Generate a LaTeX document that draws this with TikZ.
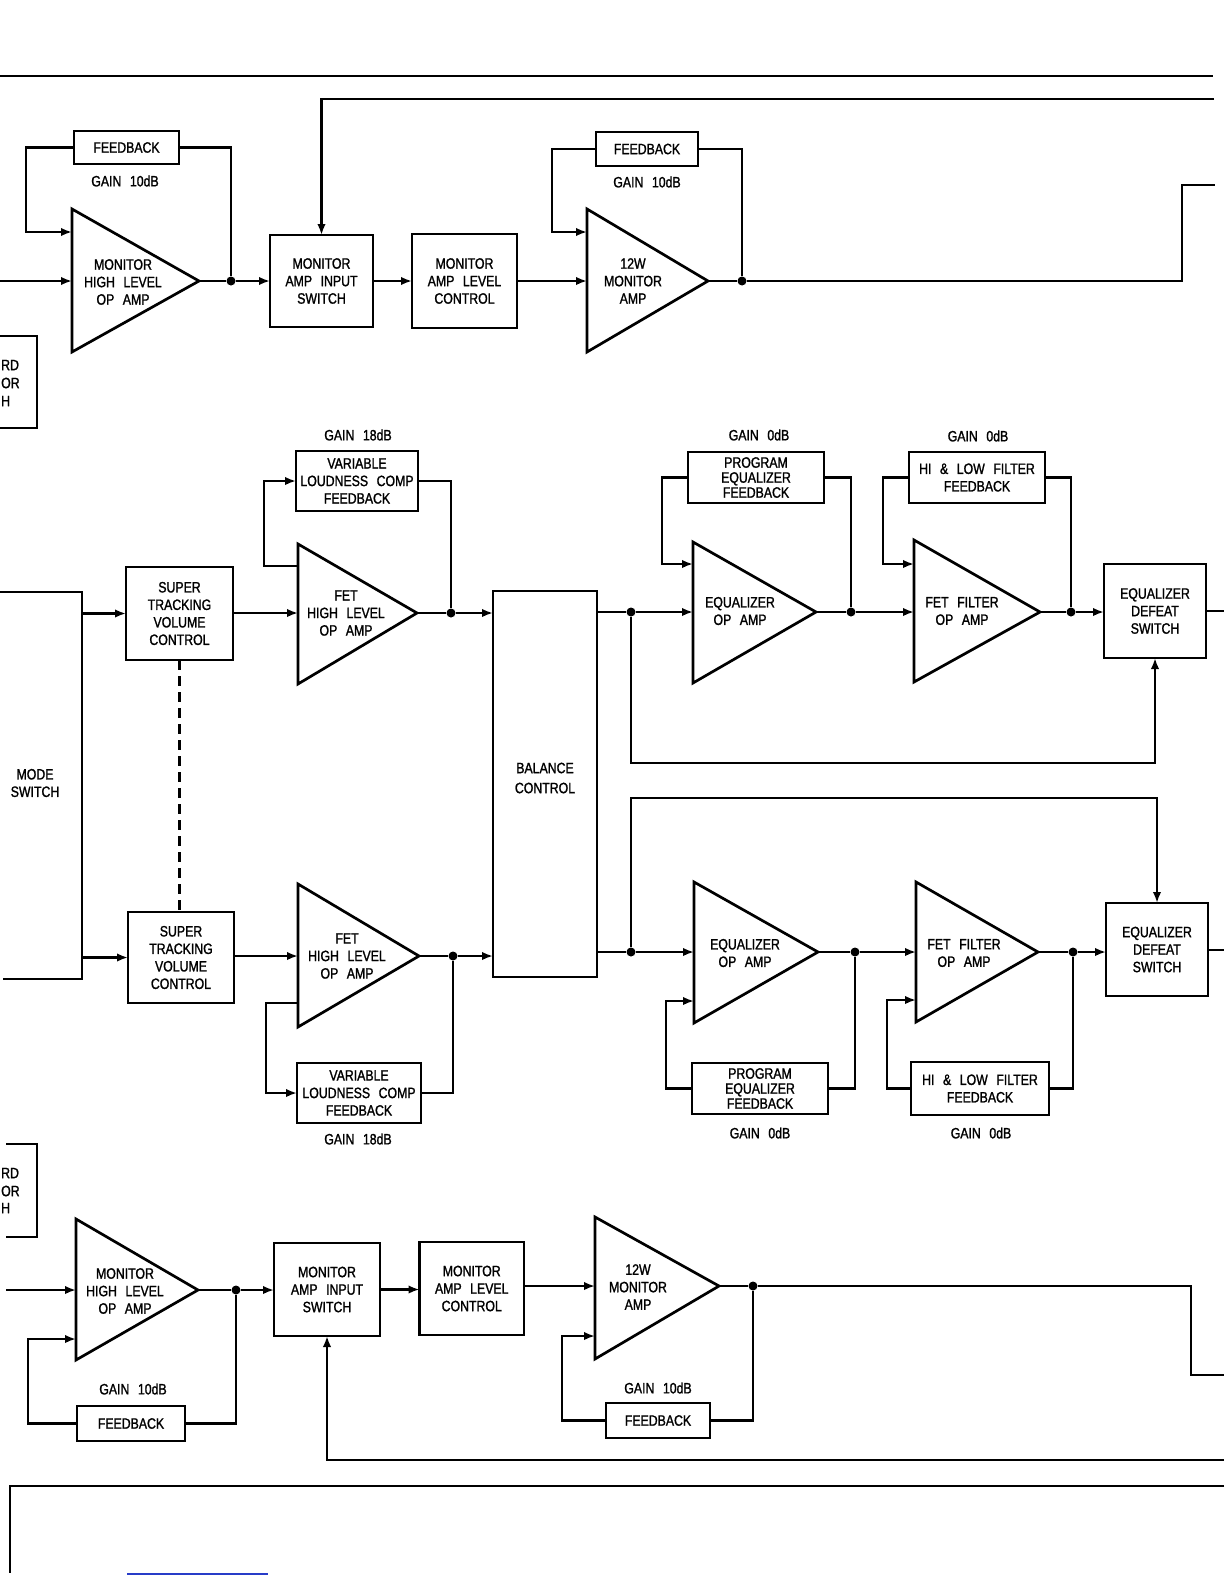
\documentclass[tikz,border=0pt]{standalone}
\usepackage{fontspec}
\setmainfont{Liberation Sans}[FakeStretch=0.82,WordSpace=2.5,FakeBold=1.3]
\usetikzlibrary{arrows.meta}
\definecolor{scanblue}{RGB}{40,60,200}
\newcommand\lbl{\fontsize{15}{17.5}\selectfont}
\newcommand\lbltight{\fontsize{15}{15}\selectfont}
\newcommand\lblbal{\fontsize{15}{20}\selectfont}
% box from corners
\newcommand\bx[6][]{\node[blk,#1,minimum width={(#4-#2)*1pt},minimum height={(#5-#3)*1pt}] (#6) at ({(#2+#4)/2},{(#3+#5)/2})}
% op amp: name, left x, top y, bottom y, apex x, apex y, feedback y
\newcommand\opamp[7]{%
  \draw[amp] (#2,#3) -- (#2,#4) -- (#5,#6) -- cycle;
  \coordinate (#1-in) at (#2,#6);
  \coordinate (#1-out) at (#5,#6);
  \coordinate (#1-fb) at (#2,#7);}
\begin{document}
\begin{tikzpicture}[x=1pt,y=-1pt,
  ln/.style={line width=2.7pt},
  arr/.style={line width=2.7pt,-{Latex[length=11pt,width=8.5pt]}},
  blk/.style={draw,line width=2.7pt,inner sep=0pt,outer sep=0pt,align=center,font=\lbl},
  txt/.style={inner sep=0pt,align=center,font=\lbl},
  dot/.style={circle,fill,inner sep=0pt,minimum size=9pt},
  amp/.style={line width=2.7pt,line join=miter}]
\fill[white] (0,0) rectangle (1224,1584);
\useasboundingbox (0,0) rectangle (1224,1584);

% ---------------- frame lines ----------------
\coordinate (tl0) at (0,76); \coordinate (tl1) at (1213,76);
\draw[ln] (tl0) -- (tl1);
\coordinate (sepR) at (1224,1486); \coordinate (sepB) at (10,1573);
\draw[ln] (sepR) -| (sepB);
\coordinate (bl0) at (127,1574); \coordinate (bl1) at (268,1574);
\draw[line width=1.5pt,scanblue] (bl0) -- (bl1);

% partial boxes at left edge
\draw[ln] (0,336) -| (37,428) -- (0,428);
\node[txt,anchor=west] (pa1) at (1,365) {RD};
\node[txt,anchor=west] (pa2) at (1,383) {OR};
\node[txt,anchor=west] (pa3) at (1,401) {H};
\draw[ln] (6,1144) -| (37,1237) -- (6,1237);
\node[txt,anchor=west] (pb1) at (1,1173) {RD};
\node[txt,anchor=west] (pb2) at (1,1191) {OR};
\node[txt,anchor=west] (pb3) at (1,1208) {H};

% ---------------- top monitor row ----------------
\opamp{t1}{72}{209}{352}{199}{281}{232}
\node[txt] (t1l) at (123,282) {MONITOR\\HIGH LEVEL\\OP AMP};
\bx{74}{131}{179}{164}{fb1} {FEEDBACK};
\node[txt] (g1) at (125,181) {GAIN 10dB};
\node[dot] (d1) at (231,281) {};
\bx{270}{235}{373}{327}{mais1} {MONITOR\\AMP INPUT\\SWITCH};
\bx{412}{234}{517}{328}{malc1} {MONITOR\\AMP LEVEL\\CONTROL};
\opamp{t2}{587}{209}{352}{708}{281}{232}
\node[txt] (t2l) at (633,281) {12W\\MONITOR\\AMP};
\bx{596}{132}{698}{166}{fb2} {FEEDBACK};
\node[txt] (g2) at (647,182) {GAIN 10dB};
\node[dot] (d2) at (742,281) {};

\coordinate (i1) at (0,281);
\draw[arr] (i1) -- (t1-in);
\draw[ln] (t1-out) -- (d1);
\draw[arr] (d1) -- (d1 -| mais1.west);
\draw[arr] (mais1.east) -- (malc1.west);
\draw[arr] (malc1.east) -- (t2-in);
\draw[arr] (fb1.west) -| (26,232) -- (t1-fb);
\draw[ln] (fb1.east) -| (d1);
\draw[arr] (fb2.west) -| (552,232) -- (t2-fb);
\draw[ln] (fb2.east) -| (d2);
\coordinate (otop) at (1215,185);
\draw[ln] (t2-out) -- (d2) -- (1182,281) |- (otop);
\coordinate (rt) at (1214,99);
\draw[arr] (rt) -| (mais1.north);

% ---------------- mode switch & volume ----------------
\draw[ln] (0,592) -| (82,979) -- (3,979);
\node[txt] (msl) at (35,783) {MODE\\SWITCH};
\coordinate (ms1) at (82,613.5); \coordinate (ms2) at (82,957.5);
\bx{126}{567}{233}{660}{st1} {SUPER\\TRACKING\\VOLUME\\CONTROL};
\bx{128}{912}{234}{1003}{st2} {SUPER\\TRACKING\\VOLUME\\CONTROL};
\draw[arr] (ms1) -- (st1.west);
\draw[arr] (ms2) -- (st2.west);
\draw[ln,dash pattern=on 10pt off 6pt] (st1.south) -- (st1.south |- st2.north);

% FET high level upper
\opamp{f1}{298}{544}{684}{417}{613}{566}
\node[txt] (f1l) at (346,613) {FET\\HIGH LEVEL\\OP AMP};
\bx{296}{451}{418}{511}{vlc1} {VARIABLE\\LOUDNESS COMP\\FEEDBACK};
\node[txt] (g3) at (358,435) {GAIN 18dB};
\node[dot] (df1) at (451,613) {};
\draw[arr] (st1.east |- f1-in) -- (f1-in);
\draw[ln] (f1-out) -- (df1);
\draw[arr] (f1-fb) -| (264,481) -- (vlc1.west);
\draw[ln] (vlc1.east) -| (df1);

% FET high level lower
\opamp{f2}{298}{884}{1027}{419}{956}{1003}
\node[txt] (f2l) at (347,956) {FET\\HIGH LEVEL\\OP AMP};
\bx{297}{1063}{421}{1123}{vlc2} {VARIABLE\\LOUDNESS COMP\\FEEDBACK};
\node[txt] (g4) at (358,1139) {GAIN 18dB};
\node[dot] (df2) at (453,956) {};
\draw[arr] (st2.east |- f2-in) -- (f2-in);
\draw[ln] (f2-out) -- (df2);
\draw[arr] (f2-fb) -| (266,1093) -- (vlc2.west);
\draw[ln] (vlc2.east) -| (df2);

% balance
\bx{493}{591}{597}{977}{bal} {};
\node[txt,font=\lblbal] (ball) at (545,778) {BALANCE\\CONTROL};
\draw[arr] (df1) -- (df1 -| bal.west);
\draw[arr] (df2) -- (df2 -| bal.west);

% ---------------- upper equalizer chain ----------------
\node[dot] (de1) at (631,612) {};
\opamp{e1}{693}{542}{683}{816}{612}{564}
\node[txt] (e1l) at (740,611) {EQUALIZER\\OP AMP};
\bx[font=\lbltight]{688}{452}{824}{503}{peq1} {PROGRAM\\EQUALIZER\\FEEDBACK};
\node[txt] (g5) at (759,435) {GAIN 0dB};
\node[dot] (de1o) at (851,612) {};
\opamp{h1}{914}{540}{682}{1040}{612}{564}
\node[txt] (h1l) at (962,611) {FET FILTER\\OP AMP};
\bx{909}{452}{1045}{503}{hl1} {HI \& LOW FILTER\\FEEDBACK};
\node[txt] (g6) at (978,436) {GAIN 0dB};
\node[dot] (dh1o) at (1071,612) {};
\bx{1104}{564}{1206}{658}{eqd1} {EQUALIZER\\DEFEAT\\SWITCH};
\coordinate (o1) at (1224,611);

\draw[ln] (de1 -| bal.east) -- (de1);
\draw[arr] (de1) -- (e1-in);
\draw[ln] (e1-out) -- (de1o);
\draw[arr] (de1o) -- (h1-in);
\draw[ln] (h1-out) -- (dh1o);
\draw[arr] (dh1o) -- (dh1o -| eqd1.west);
\draw[ln] (eqd1.east) -- (o1);
\draw[arr] (peq1.west) -| (662,564) -- (e1-fb);
\draw[ln] (peq1.east) -| (de1o);
\draw[arr] (hl1.west) -| (883,564) -- (h1-fb);
\draw[ln] (hl1.east) -| (dh1o);
\draw[arr] (de1) -- (631,763) -| (eqd1.south);

% ---------------- lower equalizer chain ----------------
\node[dot] (de2) at (631,952) {};
\opamp{e2}{694}{882}{1023}{818}{952}{1001}
\node[txt] (e2l) at (745,953) {EQUALIZER\\OP AMP};
\bx[font=\lbltight]{692}{1063}{828}{1114}{peq2} {PROGRAM\\EQUALIZER\\FEEDBACK};
\node[txt] (g7) at (760,1133) {GAIN 0dB};
\node[dot] (de2o) at (855,952) {};
\opamp{h2}{916}{882}{1022}{1038}{952}{1000}
\node[txt] (h2l) at (964,953) {FET FILTER\\OP AMP};
\bx{911}{1062}{1049}{1115}{hl2} {HI \& LOW FILTER\\FEEDBACK};
\node[txt] (g8) at (981,1133) {GAIN 0dB};
\node[dot] (dh2o) at (1073,952) {};
\bx{1106}{903}{1208}{996}{eqd2} {EQUALIZER\\DEFEAT\\SWITCH};
\coordinate (o2) at (1224,950);

\draw[ln] (de2 -| bal.east) -- (de2);
\draw[arr] (de2) -- (e2-in);
\draw[ln] (e2-out) -- (de2o);
\draw[arr] (de2o) -- (h2-in);
\draw[ln] (h2-out) -- (dh2o);
\draw[arr] (dh2o) -- (dh2o -| eqd2.west);
\draw[ln] (eqd2.east |- o2) -- (o2);
\draw[arr] (peq2.west) -| (666,1001) -- (e2-fb);
\draw[ln] (peq2.east) -| (de2o);
\draw[arr] (hl2.west) -| (887,1000) -- (h2-fb);
\draw[ln] (hl2.east) -| (dh2o);
\draw[arr] (de2) -- (631,798) -| (eqd2.north);

% ---------------- bottom monitor row ----------------
\opamp{t3}{76}{1219}{1360}{198}{1290}{1339}
\node[txt] (t3l) at (125,1291) {MONITOR\\HIGH LEVEL\\OP AMP};
\bx{77}{1406}{185}{1441}{fb3} {FEEDBACK};
\node[txt] (g9) at (133,1389) {GAIN 10dB};
\node[dot] (d3) at (236,1290) {};
\bx{274}{1243}{380}{1336}{mais2} {MONITOR\\AMP INPUT\\SWITCH};
\bx{419.5}{1242}{524}{1335}{malc2} {MONITOR\\AMP LEVEL\\CONTROL};
\opamp{t4}{595}{1217}{1359}{719}{1286}{1336}
\node[txt] (t4l) at (638,1287) {12W\\MONITOR\\AMP};
\bx{606}{1403}{710}{1438}{fb4} {FEEDBACK};
\node[txt] (g10) at (658,1388) {GAIN 10dB};
\node[dot] (d4) at (753,1286) {};

\coordinate (i3) at (6,1290);
\draw[arr] (i3) -- (t3-in);
\draw[ln] (t3-out) -- (d3);
\draw[arr] (d3) -- (d3 -| mais2.west);
\draw[arr] (mais2.east) -- (mais2.east -| malc2.west);
\draw[arr] (malc2.east |- t4-in) -- (t4-in);
\draw[arr] (fb3.west) -| (28,1339) -- (t3-fb);
\draw[ln] (fb3.east) -| (d3);
\draw[arr] (fb4.west) -| (562,1336) -- (t4-fb);
\draw[ln] (fb4.east) -| (d4);
\coordinate (obot) at (1224,1375);
\draw[ln] (t4-out) -- (d4) -| (1191,1375) -- (obot);
\coordinate (rb) at (1224,1460);
\draw[arr] (rb) -| (mais2.south);
\end{tikzpicture}
\end{document}
